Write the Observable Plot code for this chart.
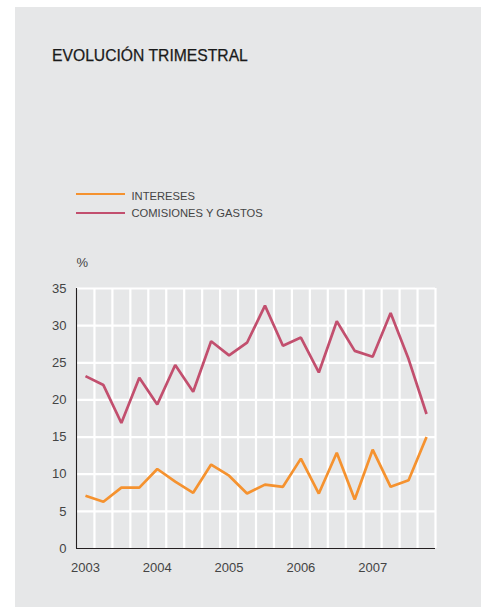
<!DOCTYPE html>
<html>
<head>
<meta charset="utf-8">
<script src="https://cdn.jsdelivr.net/npm/d3@7"></script>
<script src="https://cdn.jsdelivr.net/npm/@observablehq/plot@0.6"></script>
<style>
  html, body { margin: 0; padding: 0; background: #ffffff; }
  body { width: 481px; height: 607px; position: relative; overflow: hidden; font-family: "Liberation Sans", Arial, sans-serif; }
  #panel { position: absolute; left: 15px; top: 7px; width: 466px; height: 600px; background: #e6e7e8; }
  .abs { position: absolute; line-height: 1; white-space: nowrap; }
  #title { left: 52px; top: 47.5px; font-size: 15.7px; color: #1a1a1a; -webkit-text-stroke: 0.25px #1a1a1a; }
  .leg { font-size: 11.2px; color: #444; left: 131.5px; }
  .sw { position: absolute; left: 76px; width: 49px; height: 2.4px; }
  #pct { left: 76.5px; top: 255.7px; font-size: 13px; color: #444; }
  #chart { position: absolute; left: 0; top: 270px; }
</style>
</head>
<body>
<div id="panel"></div>
<div id="title" class="abs">EVOLUCIÓN TRIMESTRAL</div>
<div class="sw" id="sw0" style="top:193.1px;"></div>
<div class="abs leg" id="leg0" style="top:190.5px;"></div>
<div class="sw" id="sw1" style="top:211.8px;"></div>
<div class="abs leg" id="leg1" style="top:208.2px;"></div>
<div id="pct" class="abs">%</div>
<div id="chart"></div>
<script>
// Data (quarterly, 2003 Q1 – 2007 Q4)
const years = ["2003", "2004", "2005", "2006", "2007"];
const quarters = ["T1", "T2", "T3", "T4"];
const seriesNames = ["INTERESES", "COMISIONES Y GASTOS"];
const seriesColors = ["#f5922f", "#c24f6e"];
const intereses = [7.1, 6.3, 8.2, 8.2, 10.7, 9.0, 7.5, 11.3, 9.8, 7.4, 8.6, 8.3, 12.1, 7.4, 12.9, 6.6, 13.3, 8.3, 9.2, 15.0];
const comisiones = [23.2, 22.0, 16.9, 23.0, 19.4, 24.7, 21.1, 27.9, 26.0, 27.7, 32.7, 27.3, 28.4, 23.7, 30.6, 26.6, 25.8, 31.7, 25.5, 18.1];
const yTicks = [0, 5, 10, 15, 20, 25, 30, 35];

// legend
seriesNames.forEach((n, i) => {
  document.getElementById("leg" + i).textContent = n;
  document.getElementById("sw" + i).style.background = seriesColors[i];
});

const periods = [];
years.forEach(y => quarters.forEach(q => periods.push(y + " " + q)));
const rows = [];
periods.forEach((p, i) => {
  rows.push({i: i + 0.5, v: intereses[i], s: seriesNames[0]});
});
periods.forEach((p, i) => {
  rows.push({i: i + 0.5, v: comisiones[i], s: seriesNames[1]});
});
const n = periods.length;
const vGrid = d3.range(1, n + 1);
const yearTickPos = years.map((y, k) => k * 4 + 0.5);

const chart = Plot.plot({
  width: 481,
  height: 330,
  marginLeft: 76,
  marginRight: 46,
  marginTop: 18,
  marginBottom: 52,
  style: {background: "transparent", fontFamily: "'Liberation Sans', Arial, sans-serif", fontSize: "13px", color: "#444", overflow: "visible"},
  x: {domain: [0, n], axis: null, label: null},
  y: {domain: [0, 35], axis: null, label: null},
  color: {domain: seriesNames, range: seriesColors},
  marks: [
    Plot.ruleY(yTicks.filter(d => d > 0), {stroke: "#ffffff", strokeWidth: 2.2, x1: 0, x2: n}),
    Plot.ruleX(vGrid, {stroke: "#ffffff", strokeWidth: 2.2, y1: 0, y2: 35}),
    Plot.ruleX([0], {stroke: "#231f20", strokeWidth: 1.1, y1: 0, y2: 35}),
    Plot.ruleY([0], {stroke: "#231f20", strokeWidth: 1.1, x1: 0, x2: n}),
    Plot.axisY(yTicks, {tickSize: 0, tickPadding: 10, fontSize: 13, fill: "#444", label: null}),
    Plot.axisX(yearTickPos, {tickSize: 0, tickPadding: 14, fontSize: 13, fill: "#444", label: null, tickFormat: (d, k) => years[k]}),
    Plot.line(rows, {x: "i", y: "v", z: "s", stroke: "s", strokeWidth: 2.7, strokeLinejoin: "miter", strokeLinecap: "butt"})
  ]
});
document.getElementById("chart").appendChild(chart);
</script>
</body>
</html>
